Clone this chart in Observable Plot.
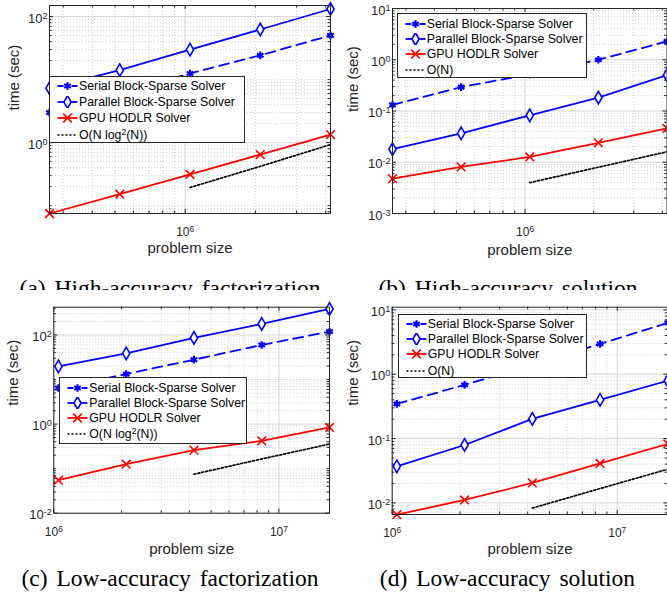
<!DOCTYPE html>
<html><head><meta charset="utf-8">
<script src="https://cdn.jsdelivr.net/npm/d3@7"></script>
<script src="https://cdn.jsdelivr.net/npm/@observablehq/plot@0.6"></script>
<style>
body{margin:0;background:#fff;}
#root{position:relative;width:667px;height:606px;overflow:hidden;background:#fff;font-family:"Liberation Sans",Arial,sans-serif;}
.row{position:absolute;left:0;width:667px;overflow:hidden;}
.panel{position:absolute;}
.legend{position:absolute;background:#fff;border:1px solid #262626;box-sizing:border-box;font-size:12.3px;color:#000;}
.lrow{position:absolute;left:0;right:0;height:16px;line-height:16px;white-space:nowrap;}
.lrow svg{position:absolute;left:6px;top:2px;}
.lrow span.t{position:absolute;left:29px;top:0;}
.sup{font-size:0.7em;position:relative;top:-0.45em;}
</style></head><body><div id="root"></div>
<script>
// ---------- data ----------
const seriesNames = ["Serial Block-Sparse Solver", "Parallel Block-Sparse Solver", "GPU HODLR Solver"];
const refNameNlog = "O(N log^2(N))";
const refNameN = "O(N)";
const nHigh = [262144, 524288, 1048576, 2097152, 4194304];
const nLow = [1048576, 2097152, 4194304, 8388608, 16777216];

// (a) high-accuracy factorization
const aSerial = [3.0, 6.1, 12.5, 24.3, 50.2];
const aParallel = [7.3, 14.1, 29.9, 62.4, 132];
const aGPU = [0.075, 0.152, 0.313, 0.647, 1.34];
const aRefN = [1048576, 2097152, 4194304];
const aRef = [0.194, 0.42, 0.93];
// (b) high-accuracy solution
const bSerial = [0.131, 0.292, 0.52, 1.0, 2.28];
const bParallel = [0.018, 0.0366, 0.0824, 0.182, 0.501];
const bGPU = [0.00479, 0.0081, 0.0127, 0.0239, 0.0458];
const bRefN = [1048576, 2097152, 4194304];
const bRef = [0.0040, 0.0080, 0.016];
// (c) low-accuracy factorization
const cSerial = [6.44, 13.3, 27.9, 59.6, 119];
const cParallel = [19.7, 38.6, 85.7, 177, 384];
const cGPU = [0.0552, 0.126, 0.26, 0.42, 0.84];
const cRefN = [4194304, 8388608, 16777216];
const cRef = [0.075, 0.165, 0.356];
// (d) low-accuracy solution
const dSerial = [0.345, 0.682, 1.4, 2.96, 6.28];
const dParallel = [0.037, 0.0794, 0.202, 0.398, 0.794];
const dGPU = [0.00655, 0.0111, 0.0204, 0.0411, 0.0824];
const dRefN = [4194304, 8388608, 16777216];
const dRef = [0.0083, 0.0167, 0.0334];

// tick values
const aXTicks = [1e6], aYTicks = [1, 100];
const bXTicks = [1e6], bYTicks = [1e-3, 1e-2, 1e-1, 1, 10];
const cXTicks = [1e6, 1e7], cYTicks = [1e-2, 1, 100];
const dXTicks = [1e6, 1e7], dYTicks = [1e-2, 1e-1, 1, 10];

const captions = ["(a) High-accuracy factorization", "(b) High-accuracy solution", "(c) Low-accuracy factorization", "(d) Low-accuracy solution"];

// ---------- helpers ----------
const BLUE = "#0000ff", RED = "#ff0000", INK = "#262626";
const fmtPow = d => "10^" + Math.round(Math.log10(d));
function minorTicks([lo, hi], major) {
  const out = [];
  for (let n = Math.floor(Math.log10(lo)) - 1; n <= Math.ceil(Math.log10(hi)); n++)
    for (let k = 1; k <= 9; k++) {
      const v = k * Math.pow(10, n);
      if (v >= lo * 0.9999 && v <= hi * 1.0001 && !major.some(t => Math.abs(t - v) / v < 1e-9)) out.push(v);
    }
  return out;
}
function rows(xs, ys) { return xs.map((x, i) => ({x, y: ys[i]})); }
function superscriptify(rootEl) {
  rootEl.querySelectorAll("text").forEach(t => {
    const s = t.textContent;
    if (s.includes("^") && t.querySelector("tspan") == null) {
      const [b, e] = s.split("^");
      t.textContent = b;
      const ts = document.createElementNS("http://www.w3.org/2000/svg", "tspan");
      ts.setAttribute("dy", "-0.45em");
      ts.setAttribute("font-size", "0.7em");
      ts.textContent = e;
      t.appendChild(ts);
    }
  });
}

function panel(cfg) {
  const {W, H, m, xDomain, yDomain, xTicks, yTicks, serial, parallel, gpu, ns, refN, ref, xlabDy, ylabDx, ylabDy} = cfg;
  const fw = W - m.left - m.right, fh = H - m.top - m.bottom;
  const minX = minorTicks(xDomain, xTicks), minY = minorTicks(yDomain, yTicks);
  const sData = rows(ns, serial), pData = rows(ns, parallel), gData = rows(ns, gpu), rData = rows(refN, ref);
  const svg = Plot.plot({
    width: W, height: H,
    marginLeft: m.left, marginRight: m.right, marginTop: m.top, marginBottom: m.bottom,
    x: {type: "log", domain: xDomain, axis: null},
    y: {type: "log", domain: yDomain, axis: null},
    style: {fontFamily: "'Liberation Sans', Arial, sans-serif", fontSize: "12px", color: INK, overflow: "visible", maxWidth: "none", background: "transparent"},
    marks: [
      Plot.ruleY(minY, {y: d => d, stroke: "#b0b0b0", strokeOpacity: 0.75, strokeDasharray: "1,2", strokeWidth: 0.8}),
      Plot.ruleX(minX, {x: d => d, stroke: "#b0b0b0", strokeOpacity: 0.75, strokeDasharray: "1,2", strokeWidth: 0.8}),
      Plot.ruleY(yTicks, {y: d => d, stroke: "#d6d6d6"}),
      Plot.ruleX(xTicks, {x: d => d, stroke: "#d6d6d6"}),
      Plot.tickX(xTicks, {x: d => d, insetTop: fh - 4, stroke: INK}),
      Plot.tickX(xTicks, {x: d => d, insetBottom: fh - 4, stroke: INK}),
      Plot.tickY(yTicks, {y: d => d, insetRight: fw - 4, stroke: INK}),
      Plot.tickY(yTicks, {y: d => d, insetLeft: fw - 4, stroke: INK}),
      Plot.tickX(minX, {x: d => d, insetTop: fh - 2.5, stroke: INK}),
      Plot.tickX(minX, {x: d => d, insetBottom: fh - 2.5, stroke: INK}),
      Plot.tickY(minY, {y: d => d, insetRight: fw - 2.5, stroke: INK}),
      Plot.tickY(minY, {y: d => d, insetLeft: fw - 2.5, stroke: INK}),
      Plot.line(rData, {x: "x", y: "y", stroke: "#000", strokeWidth: 1.7, strokeDasharray: "2,2"}),
      Plot.line(gData, {x: "x", y: "y", stroke: RED, strokeWidth: 1.8}),
      Plot.dot(gData, {x: "x", y: "y", symbol: "times", r: 4, stroke: RED, strokeWidth: 1.6}),
      Plot.line(sData, {x: "x", y: "y", stroke: BLUE, strokeWidth: 1.8, strokeDasharray: "10,6"}),
      Plot.dot(sData, {x: "x", y: "y", symbol: "asterisk", r: 3.6, stroke: BLUE, strokeWidth: 2.2}),
      Plot.line(pData, {x: "x", y: "y", stroke: BLUE, strokeWidth: 1.8}),
      Plot.dot(pData, {x: "x", y: "y", symbol: "diamond", r: 3.8, stroke: BLUE, fill: "#fff", strokeWidth: 1.6}),
      Plot.frame({stroke: INK, strokeWidth: 1}),
      Plot.axisX(xTicks, {tickSize: 0, tickPadding: 14, tickFormat: fmtPow, fontSize: 12, label: null, fill: INK}),
      Plot.axisY(yTicks, {tickSize: 0, tickPadding: 2, tickFormat: fmtPow, fontSize: 13, label: null, fill: INK, dy: 2}),
      Plot.text(["problem size"], {text: d => d, frameAnchor: "bottom", dy: xlabDy, fontSize: 15, lineAnchor: "middle", fill: INK}),
      Plot.text(["time (sec)"], {text: d => d, frameAnchor: "left", rotate: -90, dx: ylabDx, dy: ylabDy, fontSize: 15, lineAnchor: "middle", fill: INK})
    ]
  });
  superscriptify(svg);
  return svg;
}

function legend(cfg, refName) {
  const div = document.createElement("div");
  div.className = "legend";
  Object.assign(div.style, {left: cfg.left + "px", top: cfg.top + "px", width: cfg.width + "px", height: cfg.height + "px"});
  const items = [
    {name: seriesNames[0], color: BLUE, dash: "6,8,6", sym: d3.symbolAsterisk, r: 3.6, fill: "none", sw: 2.2},
    {name: seriesNames[1], color: BLUE, dash: null, sym: d3.symbolDiamond, r: 3.8, fill: "#fff", sw: 1.6},
    {name: seriesNames[2], color: RED, dash: null, sym: d3.symbolTimes, r: 4, fill: "none", sw: 1.6},
    {name: refName, color: "#000", dash: "2,2", sym: null}
  ];
  items.forEach((it, i) => {
    const row = document.createElement("div");
    row.className = "lrow";
    row.style.top = (cfg.rows[i] - 8) + "px";
    const s = d3.create("svg").attr("width", 24).attr("height", 12);
    s.append("line").attr("x1", 1.5).attr("x2", 21.5).attr("y1", 6).attr("y2", 6)
      .attr("stroke", it.color).attr("stroke-width", it.sym ? 1.8 : 1.7).attr("stroke-dasharray", it.dash);
    if (it.sym) s.append("path").attr("transform", "translate(11.5,6)")
      .attr("d", d3.symbol(it.sym, Math.PI * it.r * it.r)()).attr("stroke", it.color).attr("fill", it.fill).attr("stroke-width", it.sw);
    row.appendChild(s.node());
    const t = document.createElement("span");
    t.className = "t";
    if (it.name.includes("^")) {
      const [a, rest] = it.name.split("^");
      t.innerHTML = a + '<span class="sup">' + rest[0] + "</span>" + rest.slice(1);
    } else t.textContent = it.name;
    row.appendChild(t);
    div.appendChild(row);
  });
  return div;
}

// ---------- layout ----------
const rootEl = document.getElementById("root");
const topRow = document.createElement("div"); topRow.className = "row"; topRow.style.top = "0px"; topRow.style.height = "290px";
const botRow = document.createElement("div"); botRow.className = "row"; botRow.style.top = "290px"; botRow.style.height = "316px";
rootEl.appendChild(topRow); rootEl.appendChild(botRow);

function place(parent, svg, left, topPx) {
  const w = document.createElement("div"); w.className = "panel";
  w.style.left = left + "px"; w.style.top = topPx + "px";
  w.appendChild(svg); parent.appendChild(w);
}

place(topRow, panel({W: 340, H: 290, m: {left: 49, right: 10, top: 5, bottom: 77},
  xDomain: [262144, 4194304], yDomain: [0.075, 150], xTicks: aXTicks, yTicks: aYTicks,
  serial: aSerial, parallel: aParallel, gpu: aGPU, ns: nHigh, refN: aRefN, ref: aRef,
  xlabDy: 35, ylabDx: -35, ylabDy: 1}), 0, 0);
place(topRow, panel({W: 340, H: 290, m: {left: 52, right: 13.5, top: 8, bottom: 77},
  xDomain: [262144, 4194304], yDomain: [1e-3, 10], xTicks: bXTicks, yTicks: bYTicks,
  serial: bSerial, parallel: bParallel, gpu: bGPU, ns: nHigh, refN: bRefN, ref: bRef,
  xlabDy: 37, ylabDx: -39.5, ylabDy: 1}), 340, 0);
place(botRow, panel({W: 340, H: 316, m: {left: 53.3, right: 11, top: 16.7, bottom: 93.3},
  xDomain: [1e6, 16777216], yDomain: [0.01, 420], xTicks: cXTicks, yTicks: cYTicks,
  serial: cSerial, parallel: cParallel, gpu: cGPU, ns: nLow, refN: cRefN, ref: cRef,
  xlabDy: 36, ylabDx: -40.8, ylabDy: -4.5}), 0, 0);
place(botRow, panel({W: 340, H: 316, m: {left: 51.7, right: 12.7, top: 16.7, bottom: 92},
  xDomain: [1e6, 16777216], yDomain: [0.0066, 11], xTicks: dXTicks, yTicks: dYTicks,
  serial: dSerial, parallel: dParallel, gpu: dGPU, ns: nLow, refN: dRefN, ref: dRef,
  xlabDy: 35, ylabDx: -39.2, ylabDy: -5}), 340, 0);

// legends
rootEl.appendChild(legend({left: 49, top: 76, width: 196, height: 67, rows: [9, 25, 41, 57.5]}, refNameNlog));
rootEl.appendChild(legend({left: 396.7, top: 13.3, width: 190, height: 65, rows: [9.4, 24.4, 40, 55.7]}, refNameN));
rootEl.appendChild(legend({left: 59.3, top: 377.3, width: 188, height: 67, rows: [9.4, 24.4, 39.4, 56]}, refNameNlog));
rootEl.appendChild(legend({left: 397.7, top: 314.3, width: 189, height: 64, rows: [9, 24, 39, 55.7]}, refNameN));

// captions overlay
const ov = d3.create("svg").attr("width", 667).attr("height", 606)
  .style("position", "absolute").style("left", 0).style("top", 0).style("pointer-events", "none");
ov.append("clipPath").attr("id", "topclip").append("rect").attr("x", 0).attr("y", 0).attr("width", 667).attr("height", 290);
const capPos = [[170, 296, true], [508, 296, true], [170, 586, false], [507.5, 586, false]];
captions.forEach((c, i) => {
  const [x, y, clip] = capPos[i];
  ov.append("text").attr("x", x).attr("y", y).attr("text-anchor", "middle")
    .attr("clip-path", clip ? "url(#topclip)" : null)
    .style("font-family", "'Liberation Serif','Times New Roman',serif").style("font-size", "23.5px")
    .style("word-spacing", "3px").attr("fill", "#000").text(c);
});
rootEl.appendChild(ov.node());
</script>
</body></html>
